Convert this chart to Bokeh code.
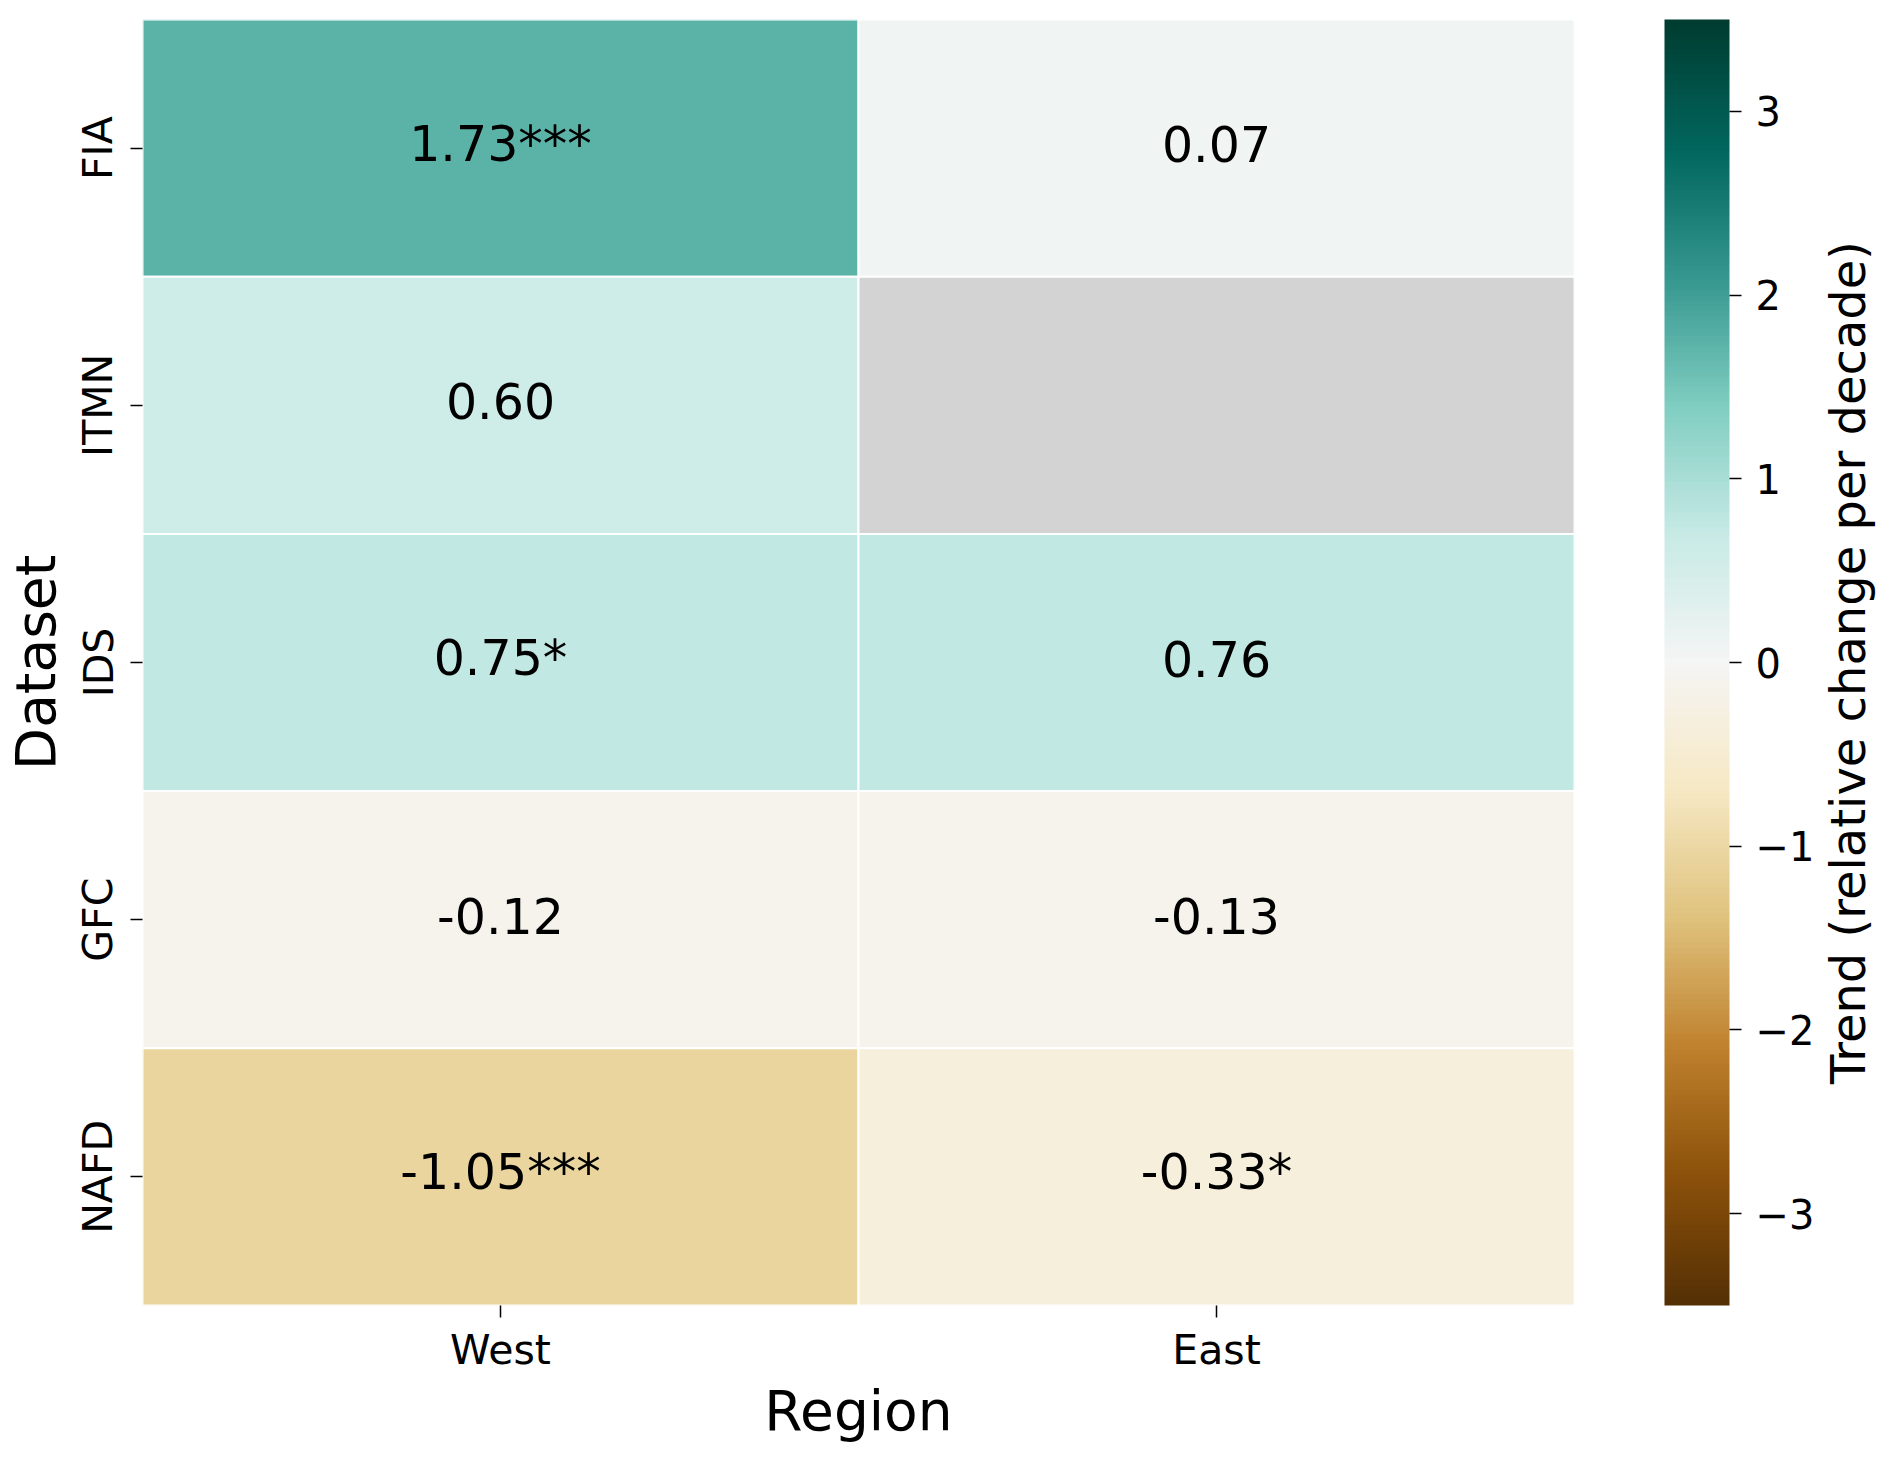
import numpy as np
from bokeh.plotting import figure
from bokeh.layouts import row
from bokeh.models import (ColumnDataSource, LinearColorMapper, ColorBar, FixedTicker,
                          FactorRange, Title)
from bokeh.transform import transform
from bokeh.core.properties import value
from bokeh.embed import file_html
from bokeh.resources import INLINE

# ---- data ----
regions = ["West", "East"]
datasets = ["FIA", "ITMN", "IDS", "GFC", "NAFD"]
west_trend = [1.73, 0.60, 0.75, -0.12, -1.05]
east_trend = [0.07, float("nan"), 0.76, -0.13, -0.33]
west_sig = ["***", "", "*", "", "***"]
east_sig = ["", "", "", "", "*"]
cbar_ticks = [-3, -2, -1, 0, 1, 2, 3]
cbar_title = "Trend (relative change per decade)"
vmin, vmax = -3.5, 3.5

# ---- BrBG colormap (matplotlib nodes), 256 levels ----
brbg_nodes = [
    (0.32941176470588235, 0.18823529411764706, 0.0196078431372549),
    (0.5490196078431373, 0.31764705882352939, 0.0392156862745098),
    (0.74901960784313726, 0.50588235294117645, 0.17647058823529413),
    (0.87450980392156863, 0.76078431372549016, 0.49019607843137253),
    (0.96470588235294119, 0.90980392156862744, 0.76470588235294112),
    (0.96078431372549022, 0.96078431372549022, 0.96078431372549022),
    (0.7803921568627451, 0.91764705882352937, 0.89803921568627454),
    (0.50196078431372548, 0.80392156862745101, 0.75686274509803919),
    (0.20784313725490197, 0.59215686274509804, 0.5607843137254902),
    (0.00392156862745098, 0.4, 0.36862745098039218),
    (0.0, 0.23529411764705882, 0.18823529411764706),
]
nodes = np.array(brbg_nodes)
xs = np.linspace(0, 1, len(nodes))
t = np.linspace(0, 1, 256)
palette = []
for tt in t:
    rgb = [np.interp(tt, xs, nodes[:, k]) for k in range(3)]
    palette.append("#%02x%02x%02x" % tuple(int(round(c * 255)) for c in rgb))

mapper = LinearColorMapper(palette=palette, low=vmin, high=vmax, nan_color="#d3d3d3")

# ---- table ----
xcol, ycol, vcol, lab = [], [], [], []
for i, d in enumerate(datasets):
    for r, vals, sigs in (("West", west_trend, west_sig), ("East", east_trend, east_sig)):
        v = vals[i]
        xcol.append(r)
        ycol.append(d)
        vcol.append(v)
        lab.append("" if np.isnan(v) else f"{v:.2f}{sigs[i]}")
src = ColumnDataSource(dict(x=xcol, y=ycol, v=vcol, label=lab))

FONT = "DejaVu Sans"
FW, FH = 1432, 1286
TOP, BOTTOM = 19, 140
p = figure(x_range=FactorRange(factors=regions), y_range=FactorRange(factors=datasets[::-1]),
           frame_width=FW, frame_height=FH, output_backend="svg", toolbar_location=None,
           min_border_left=137, min_border_top=TOP, min_border_right=236,
           min_border_bottom=BOTTOM)
p.x_range.range_padding = 0
p.y_range.range_padding = 0
p.outline_line_color = None
p.grid.visible = False

p.rect(x="x", y="y", width=1, height=1, source=src, fill_color=transform("v", mapper),
       line_color="white", line_width=2)
p.text(x="x", y="y", text="label", source=src, text_align="center", text_baseline="middle",
       y_offset=-4, text_font=value(FONT), text_font_size="49px", text_color="black")

for ax in (p.xaxis[0], p.yaxis[0]):
    ax.axis_line_color = None
    ax.major_tick_in = 0
    ax.major_tick_out = 12
    ax.major_tick_line_width = 1.5
    ax.minor_tick_line_color = None
    ax.major_label_text_font = FONT
    ax.major_label_text_font_size = "41px"
    ax.major_label_text_color = "black"
    ax.axis_label_text_font = FONT
    ax.axis_label_text_font_size = "55px"
    ax.axis_label_text_font_style = "normal"
    ax.axis_label_text_color = "black"
p.xaxis.axis_label = "Region"
p.yaxis.axis_label = "Dataset"
p.xaxis.major_label_standoff = 8
p.yaxis.major_label_standoff = 8
p.yaxis.major_label_orientation = "vertical"
p.xaxis.axis_label_standoff = 2
p.yaxis.axis_label_standoff = 4

cb = ColorBar(color_mapper=mapper, ticker=FixedTicker(ticks=cbar_ticks),
              major_label_overrides={k: (str(k).replace("-", "\u2212")) for k in cbar_ticks},
              width=65, height=FH, padding=0, margin=0, location=(90, 0),
              bar_line_color=None, major_tick_out=12, major_tick_in=0,
              major_tick_line_color="black", major_tick_line_width=1.5, label_standoff=14,
              major_label_text_font=FONT, major_label_text_font_size="40px",
              major_label_text_color="black", background_fill_color=None, border_line_color=None)
p.add_layout(cb, "right")

# narrow companion figure carrying the colour-bar title (left-side titles read bottom to top)
p2 = figure(width=70, height=TOP + FH + BOTTOM, x_range=(0, 1), y_range=(0, 1),
            output_backend="svg", toolbar_location=None,
            min_border_left=0, min_border_right=0, min_border_top=TOP, min_border_bottom=BOTTOM)
p2.xaxis.visible = False
p2.yaxis.visible = False
p2.grid.visible = False
p2.outline_line_color = None
p2.add_layout(Title(text=cbar_title, align="center", text_font=FONT, text_font_size="48px",
                    text_font_style="normal", text_color="black", standoff=0, offset=0), "left")

open("out.html", "w").write(file_html(row(p, p2), INLINE))
